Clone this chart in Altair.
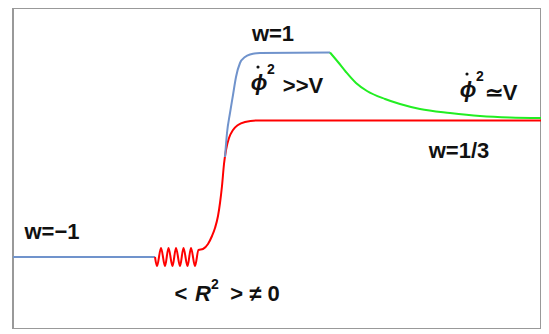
import altair as alt
import pandas as pd

# Series values (x: time-like units across the frame, y: height above frame bottom)
blue1_x = [0, 142]
blue1_y = [72, 72]

red_x = [142, 144, 148, 152, 155.5, 159.5, 163, 167, 170.5, 174.5, 178, 182, 185.5,
         190, 195, 199, 202, 205, 207, 209, 211, 213, 216, 220, 225, 232, 244, 262, 528]
red_y = [72, 63, 81, 63, 81, 63, 81, 63, 81, 63, 81, 63, 79,
         80, 85, 93, 101, 113, 126, 143, 165, 179, 191, 199, 204, 207, 208.5, 208.5, 208.5]

blue2_x = [212, 214, 217, 220, 223, 227, 232, 237, 247, 317]
blue2_y = [172, 196, 216, 234, 252, 266, 272, 274.5, 276, 276.5]

green_x = [317, 325, 333, 343, 354, 372, 387, 407, 437, 467, 497, 528]
green_y = [276.5, 267, 257, 246, 238, 230, 225, 220, 216, 213, 211.5, 211]

# Plain bold labels
label_text = ["w=1", "w=1/3", "w=\u22121", ">>V", "\u2243V", "<", "> \u2260 0"]
label_x = [260, 446, 39, 290, 488, 168, 242]
label_y = [295, 178, 97, 243, 236, 35, 35]

# Italic symbols (phi, R)
ital_text = ["\u03d5", "\u03d5", "R"]
ital_x = [246, 455, 190]
ital_y = [246, 239, 35]

# Superscript 2s
sup_text = ["2", "2", "2"]
sup_x = [258, 467, 202]
sup_y = [259, 252, 44]

# Time-derivative dots above phi
dot_x = [245, 454]
dot_y = [262, 255]

rows = []
for name, xs_, ys_ in [("blue1", blue1_x, blue1_y), ("red", red_x, red_y),
                       ("blue2", blue2_x, blue2_y), ("green", green_x, green_y)]:
    for i, (a, b) in enumerate(zip(xs_, ys_)):
        rows.append({"series": name, "x": a, "y": b, "i": i})
df = pd.DataFrame(rows)

xs = alt.Scale(domain=[0, 528], nice=False, zero=False)
ys = alt.Scale(domain=[0, 321], nice=False, zero=False)
X = alt.X("x:Q", scale=xs, axis=None)
Y = alt.Y("y:Q", scale=ys, axis=None)

lines = alt.Chart(df).mark_line(strokeWidth=2, interpolate="monotone").encode(
    x=X, y=Y,
    color=alt.Color("series:N", scale=alt.Scale(domain=["blue1", "red", "blue2", "green"],
                                                range=["#7093cc", "#ff0000", "#7093cc", "#22ee22"]),
                    legend=None),
    detail="series:N",
    order="i:Q",
)

def text_layer(texts, xv, yv, **kw):
    d = pd.DataFrame({"text": texts, "x": xv, "y": yv})
    base = dict(font="Liberation Sans", fontWeight="bold", align="center",
                baseline="middle", color="#111111")
    base.update(kw)
    return alt.Chart(d).mark_text(**base).encode(x=X, y=Y, text="text:N")

t_plain = text_layer(label_text, label_x, label_y, fontSize=22)
t_ital = text_layer(ital_text, ital_x, ital_y, fontSize=22, fontStyle="italic")
t_sup = text_layer(sup_text, sup_x, sup_y, fontSize=14)
t_dot = alt.Chart(pd.DataFrame({"x": dot_x, "y": dot_y})).mark_circle(
    size=10, color="#111111", opacity=1).encode(x=X, y=Y)

chart = alt.layer(lines, t_plain, t_ital, t_sup, t_dot).properties(
    width=528, height=321,
    autosize=alt.AutoSizeParams(type="none"),
    padding={"left": 5, "top": 0, "right": 0, "bottom": 0},
).configure_view(stroke="#999999", strokeWidth=2)

chart.save("out.html", embed_options={"renderer": "svg", "actions": False})
